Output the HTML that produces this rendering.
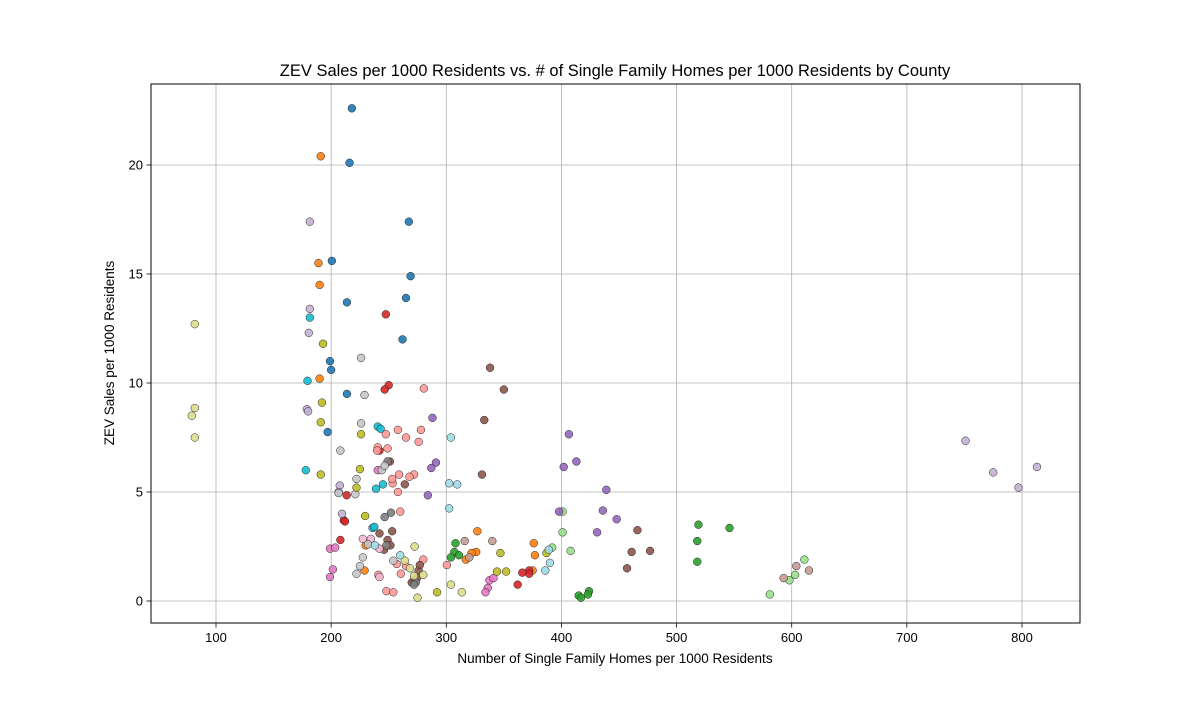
<!DOCTYPE html>
<html><head><meta charset="utf-8"><style>
body{margin:0;background:#fff;font-family:"Liberation Sans","DejaVu Sans",sans-serif;}
svg text{font-family:"Liberation Sans","DejaVu Sans",sans-serif;fill:#000;}
</style></head><body>
<svg id="chart" width="1200" height="700" xmlns="http://www.w3.org/2000/svg">
<rect width="1200" height="700" fill="#fff"/>
<g id="grid"></g>
<g id="points"></g>
<rect x="151" y="84" width="929" height="539" fill="none" stroke="#000" stroke-width="1"/>
<g id="ticks"></g>
<text x="615" y="76" text-anchor="middle" font-size="16.5">ZEV Sales per 1000 Residents vs. # of Single Family Homes per 1000 Residents by County</text>
<text x="615" y="663" text-anchor="middle" font-size="13.5">Number of Single Family Homes per 1000 Residents</text>
<text transform="translate(114,353) rotate(-90)" text-anchor="middle" font-size="13.5">ZEV Sales per 1000 Residents</text>
</svg>
<script>
const xTicks=[100,200,300,400,500,600,700,800];
const yTicks=[0,5,10,15,20];
const palette=["#1f77b4","#ff7f0e","#2ca02c","#98df8a","#d62728","#ff9896","#9467bd","#c5b0d5","#8c564b","#c49c94","#e377c2","#f7b6d2","#7f7f7f","#c7c7c7","#bcbd22","#dbdb8d","#17becf","#9edae5"];
const xs=[218,216,200.6,267.5,269,213.7,265,262,199,200,213.7,197,
191,189,190,190,327,326,317,322,376,377,375,230,229,
519,546,518,518,308,307,311,304,424,423,415,417,
581,598,401,401,392,408,611,603,
247.5,250,246.5,211,212,213.5,208,242,362,372,372,366,
280.5,265,276,278,258,247.5,249,240.5,272,268,259,253.5,258,253,260,240,280,257,265,260.5,248,254,241,300.5,
288,406.5,402,413,291,287,439,436,448,431,284,398,
181.5,181.5,180.6,178.9,180,751,775,797,813,209.5,207.5,206.5,
338,350,333,331,264,251,466,461,477,457,242,253,249,251.5,246,276,277,272,274.5,270,
340,316,320,604,615,593,
199,203.5,201.5,199,240.5,337.5,341,336,334,
227.5,234.5,242,242,
246.5,252,249,248,273.5,272,
226,229,226,244,246.5,222,221,206.5,208,227.5,225,222,254,232,
193,192,191,191,226,225,222,229.5,347,344,352,387,292,
81.6,81.6,79,81.6,272.5,275,304,313.5,264,268.5,272,280,
181.5,179.5,178,240.5,243,245,239,236,237.5,
304,309.5,302.5,302.5,389,390,386,260,238];
const ys=[22.6,20.1,15.6,17.4,14.9,13.7,13.9,12.0,11.0,10.6,9.5,7.75,
20.4,15.5,14.5,10.2,3.2,2.25,1.9,2.2,2.65,2.1,1.4,2.55,1.4,
3.5,3.35,2.75,1.8,2.65,2.25,2.1,2.0,0.45,0.3,0.25,0.15,
0.3,0.95,4.1,3.15,2.45,2.3,1.9,1.2,
13.15,9.9,9.7,3.7,3.65,4.85,2.8,6.9,0.75,1.4,1.25,1.3,
9.75,7.5,7.3,7.85,7.85,7.65,7.0,7.05,5.8,5.7,5.8,5.4,5.0,5.6,4.1,6.9,1.9,1.7,1.6,1.25,0.45,0.4,1.2,1.65,
8.4,7.65,6.15,6.4,6.35,6.1,5.1,4.15,3.75,3.15,4.85,4.1,
17.4,13.4,12.3,8.8,8.7,7.35,5.9,5.2,6.15,4.0,5.3,5.0,
10.7,9.7,8.3,5.8,5.35,6.4,3.25,2.25,2.3,1.5,3.1,3.2,2.8,2.55,2.35,1.4,1.65,0.95,1.05,0.85,
2.75,2.75,2.0,1.6,1.4,1.05,
2.4,2.45,1.45,1.1,6.0,0.95,1.05,0.6,0.4,
2.85,2.85,1.1,2.4,
3.85,4.05,6.4,2.55,0.85,0.75,
11.15,9.45,8.15,6.0,6.2,5.6,4.9,4.95,6.9,2.0,1.6,1.25,1.85,2.6,
11.8,9.1,8.2,5.8,7.65,6.05,5.2,3.9,2.2,1.35,1.35,2.2,0.4,
12.7,8.85,8.5,7.5,2.5,0.15,0.75,0.4,1.85,1.5,1.15,1.2,
13.0,10.1,6.0,8.0,7.9,5.35,5.15,3.35,3.4,
7.5,5.35,5.4,4.25,2.35,1.75,1.4,2.1,2.55];
const groups=[0,0,0,0,0,0,0,0,0,0,0,0,
1,1,1,1,1,1,1,1,1,1,1,1,1,
2,2,2,2,2,2,2,2,2,2,2,2,
3,3,3,3,3,3,3,3,
4,4,4,4,4,4,4,4,4,4,4,4,
5,5,5,5,5,5,5,5,5,5,5,5,5,5,5,5,5,5,5,5,5,5,5,5,
6,6,6,6,6,6,6,6,6,6,6,6,
7,7,7,7,7,7,7,7,7,7,7,7,
8,8,8,8,8,8,8,8,8,8,8,8,8,8,8,8,8,8,8,8,
9,9,9,9,9,9,
10,10,10,10,10,10,10,10,10,
11,11,11,11,
12,12,12,12,12,12,
13,13,13,13,13,13,13,13,13,13,13,13,13,13,
14,14,14,14,14,14,14,14,14,14,14,14,14,
15,15,15,15,15,15,15,15,15,15,15,15,
16,16,16,16,16,16,16,16,16,
17,17,17,17,17,17,17,17,17];
const NS="http://www.w3.org/2000/svg";
function sx(v){return 100.86+v*1.1514;}
function sy(v){return 601-v*21.8;}
const grid=document.getElementById('grid'),ticks=document.getElementById('ticks'),pts=document.getElementById('points');
function mk(tag,attrs,parent){const e=document.createElementNS(NS,tag);for(const k in attrs)e.setAttribute(k,attrs[k]);parent.appendChild(e);return e;}
xTicks.forEach(t=>{const x=sx(t);
 const g=mk('line',{x1:x,x2:x,y1:84,y2:623,stroke:'#b0b0b0','stroke-width':0.8},grid);
 
 
 mk('line',{x1:x,x2:x,y1:623,y2:627.5,stroke:'#000','stroke-width':0.8},ticks);
 const tx=mk('text',{x:x,y:642,'text-anchor':'middle','font-size':13},ticks);tx.textContent=t;
 
 });
yTicks.forEach(t=>{const y=sy(t);
 const g=mk('line',{x1:151,x2:1080,y1:y,y2:y,stroke:'#b0b0b0','stroke-width':0.8},grid);
 
 
 mk('line',{x1:146.5,x2:151,y1:y,y2:y,stroke:'#000','stroke-width':0.8},ticks);
 const tx=mk('text',{x:143,y:y+4.5,'text-anchor':'end','font-size':13},ticks);tx.textContent=t;
 
 });
xs.forEach((v,i)=>{
 const c=mk('circle',{cx:sx(v),cy:sy(ys[i]),r:3.9,fill:palette[groups[i]],'fill-opacity':0.9,stroke:'#222','stroke-width':0.5},pts);
 
 });
</script>
</body></html>
